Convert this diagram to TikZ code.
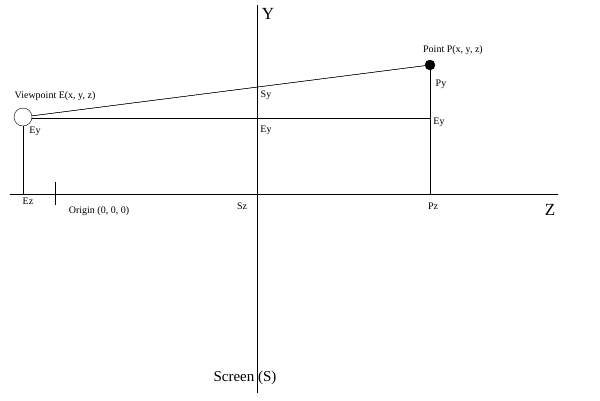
\documentclass[tikz,border=0pt]{standalone}
\usepackage{fontspec}
\setmainfont{Liberation Serif}
\usetikzlibrary{positioning}
\begin{document}
\begin{tikzpicture}[x=1pt,y=-1pt,
	lbl/.style={inner sep=0pt,font=\fontsize{10}{12}\selectfont},
	big/.style={inner sep=0pt,font=\fontsize{17}{20}\selectfont}]
\useasboundingbox (0,0) rectangle (600,400);
% axes
\coordinate (ytop) at (257,5);
\coordinate (ybot) at (257,393);
\coordinate (zl) at (10,194);
\coordinate (zr) at (558,194);
\draw (ytop) -- (ybot);
\draw (zl) -- (zr);
\draw (55,182) -- (55,205);
\node[big] (Y) at (268,14) {Y};
\node[big] (Z) at (550,210) {Z};
% eye and point
\node[draw,circle,minimum size=18pt,inner sep=0pt,fill=white] (E) at (23,117) {};
\node[draw,circle,fill=black,minimum size=10pt,inner sep=0pt] (P) at (430,65) {};
\coordinate (Ez) at (23,194);
\coordinate (Pz) at (430,194);
\coordinate (Eyr) at (430,118);
\draw (E) -- (P);
\draw (E.east |- Eyr) -- (Eyr);
\draw (E) -- (Ez);
\draw (P) -- (Pz);
\draw (E) -- (P);
% labels
\node[lbl] (Elbl) at (55,96) {Viewpoint E(x, y, z)};
\node[lbl] (Plbl) at (453,50) {Point P(x, y, z)};
\node[lbl] (Sy) at (266,95) {Sy};
\node[lbl] (Ey1) at (266,130) {Ey};
\node[lbl] (Py) at (441,84) {Py};
\node[lbl] (Ey2) at (439,122) {Ey};
\node[lbl] (Ey3) at (35,131) {Ey};
\node[lbl] (Ezl) at (28,201) {Ez};
\node[lbl] (O) at (99,211) {Origin (0, 0, 0)};
\node[lbl] (Sz) at (242,206) {Sz};
\node[lbl] (Pzl) at (433,206) {Pz};
\node[big,font=\fontsize{15}{18}\selectfont] (S) at (245,378) {Screen (S)};
\end{tikzpicture}
\end{document}
